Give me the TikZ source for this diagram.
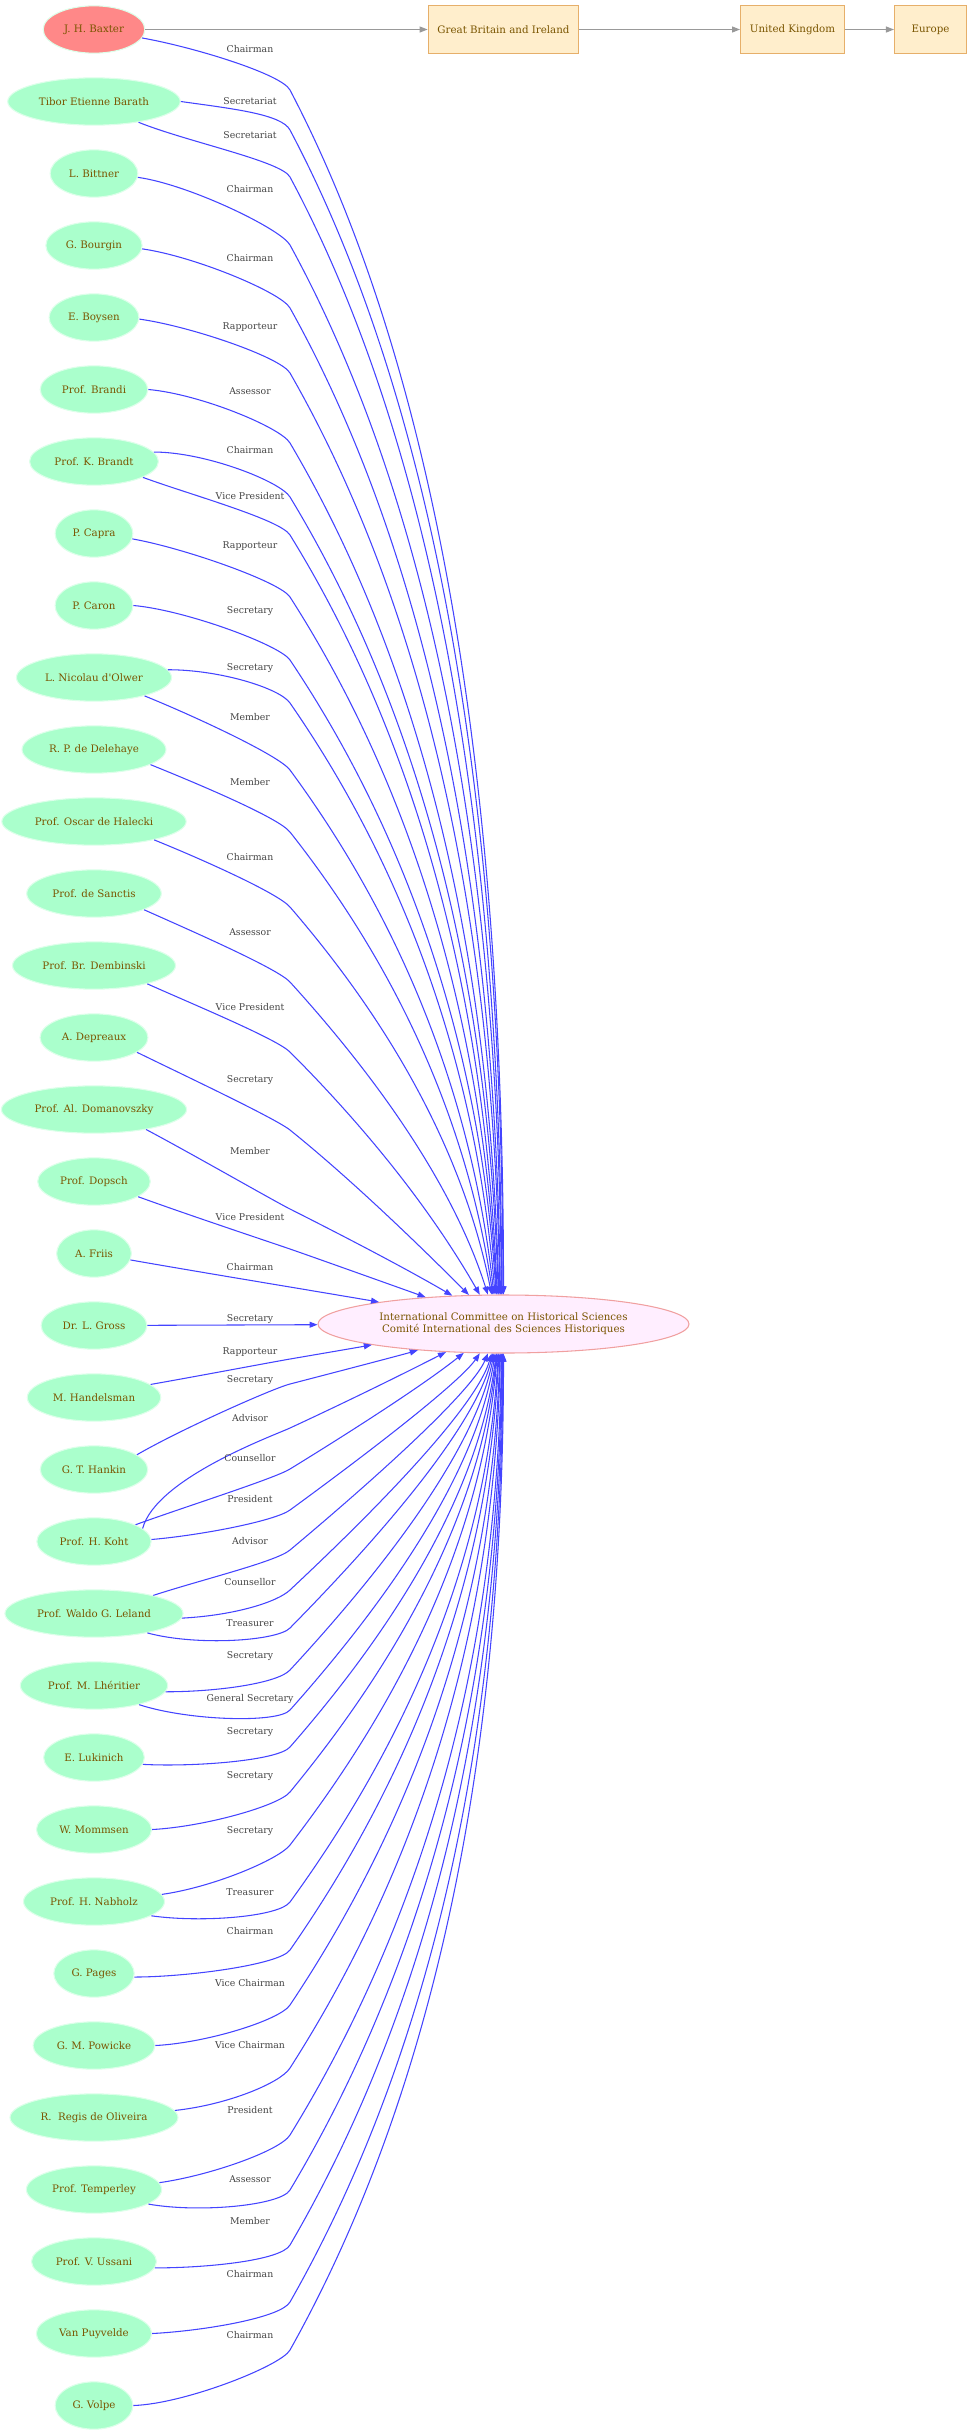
\documentclass[tikz,border=0pt]{standalone}
\usepackage{fontspec}
\setmainfont{DejaVu Serif}
\usepackage{xfp}
\usetikzlibrary{shapes.geometric,arrows.meta,calc}
\definecolor{pfill}{HTML}{AAFFCC}
\definecolor{pline}{HTML}{DDFFEA}
\definecolor{bxfill}{HTML}{FF8888}
\definecolor{txtc}{HTML}{7A5500}
\definecolor{boxfill}{HTML}{FFEECC}
\definecolor{boxline}{HTML}{E6AF6A}
\definecolor{cfill}{HTML}{FFEEFF}
\definecolor{cline}{HTML}{F0A0A0}
\definecolor{edgeblue}{HTML}{4444FF}
\definecolor{edgegray}{HTML}{999999}
\definecolor{labc}{HTML}{444444}
\newcounter{lblc}
% #1 source, #2 start anchor angle, #3 exit angle, #4 knee y (x=290), #5 landing angle, #6 label, #7 label y
\newcommand\relE[7]{%
 \edef\rlR{\fpeval{1/sqrt((cosd(#5)/185.5)^2+(sind(#5)/29)^2)}}%
 \edef\rlTx{\fpeval{503.5+(\rlR)*cosd(#5)}}%
 \edef\rlTy{\fpeval{1324-(\rlR)*sind(#5)}}%
 \edef\rlDy{\fpeval{abs((\rlTy)-(#4))}}%
 \edef\rlF{\fpeval{1-0.22*min(1,(\rlDy)/400)}}%
 \edef\rlS{\fpeval{(\rlF)*atand((\rlTy)-(#4),(\rlTx)-290)}}%
 \edef\rlUx{\fpeval{cosd(\rlS)}}%
 \edef\rlUy{\fpeval{sind(\rlS)}}%
 \edef\rlAy{\fpeval{(#4)<1324 ? 1324+0.0002*(\rlDy)^2 : 1324-0.0002*(\rlDy)^2}}%
 \edef\rlEx{\fpeval{503.5-(\rlTx)}}%
 \edef\rlEy{\fpeval{(\rlAy)-(\rlTy)}}%
 \edef\rlKx{\fpeval{(\rlTx)-290}}%
 \edef\rlKy{\fpeval{(\rlTy)-(#4)}}%
 \edef\rlL{\fpeval{sqrt((\rlKx)^2+(\rlKy)^2)}}%
 \edef\rlX{\fpeval{(\rlUx)*(\rlEy)-(\rlUy)*(\rlEx)}}%
 \edef\rlV{\fpeval{abs(\rlX)<0.0001 ? 0.5*(\rlL) : ((\rlKx)*(\rlEy)-(\rlKy)*(\rlEx))/(\rlX)}}%
 \edef\rlV{\fpeval{max(0.15*(\rlL),min(0.85*(\rlL),\rlV))}}%
 \edef\rlPx{\fpeval{290+(\rlV)*(\rlUx)}}%
 \edef\rlPy{\fpeval{(#4)+(\rlV)*(\rlUy)}}%
 \edef\rlBx{\fpeval{round(290-18*(\rlUx),2)}}%
 \edef\rlBy{\fpeval{round((#4)-18*(\rlUy),2)}}%
 \edef\rlCx{\fpeval{round(290+2/3*((\rlPx)-290),2)}}%
 \edef\rlCy{\fpeval{round((#4)+2/3*((\rlPy)-(#4)),2)}}%
 \edef\rlDx{\fpeval{round((\rlTx)+2/3*((\rlPx)-(\rlTx)),2)}}%
 \edef\rlDyy{\fpeval{round((\rlTy)+2/3*((\rlPy)-(\rlTy)),2)}}%
 \draw[rel] (#1.#2) .. controls ($(#1.#2)+({52*cos(#3)},{-52*sin(#3)})$) and (\rlBx,\rlBy) .. (290,#4) .. controls (\rlCx,\rlCy) and (\rlDx,\rlDyy) .. (ichs.#5);
 \stepcounter{lblc}%
 \node[lbl] (lab\thelblc) at (250,#7) {#6};
}
\begin{document}
\begin{tikzpicture}[x=0.75pt,y=-0.75pt,
  person/.style={ellipse, draw=pline, fill=pfill, text=txtc, font=\fontsize{7.7}{9.2}\selectfont, minimum width=56pt, minimum height=35.5pt, inner xsep=4.5pt, inner ysep=1pt, line width=0.8pt},
  place/.style={rectangle, draw=boxline, fill=boxfill, text=txtc, font=\fontsize{7.7}{9.2}\selectfont, minimum width=54pt, minimum height=36pt, inner xsep=7pt, line width=0.8pt},
  org/.style={ellipse, draw=cline, fill=cfill, text=txtc, font=\fontsize{7.7}{9.2}\selectfont, align=center, minimum width=278.25pt, minimum height=43.5pt, inner sep=0pt, line width=0.8pt},
  rel/.style={draw=edgeblue, line width=0.8pt, -{Triangle[length=6pt,width=4.5pt]}},
  link/.style={draw=edgegray, line width=0.8pt, -{Triangle[length=6pt,width=4.5pt]}},
  lbl/.style={text=labc, font=\fontsize{7}{8}\selectfont, inner sep=0pt}]
\useasboundingbox (0,0) rectangle (972,2435);

\node[place] (gb) at (503.5,29.5) {Great Britain and Ireland};
\node[place] (uk) at (792.5,29.5) {United Kingdom};
\node[place] (eu) at (930.5,29.5) {Europe};
\node[org] (ichs) at (503.5,1324) {International Committee on Historical Sciences\\Comité International des Sciences Historiques};

\node[person,fill=bxfill] (baxter) at (94,29.5) {J. H. Baxter};
\node[person] (barath) at (94,101.5) {Tibor Etienne Barath};
\node[person] (bittner) at (94,173.5) {L. Bittner};
\node[person] (bourgin) at (94,245.5) {G. Bourgin};
\node[person] (boysen) at (94,317.5) {E. Boysen};
\node[person] (brandi) at (94,389.5) {Prof. Brandi};
\node[person] (brandt) at (94,461.5) {Prof. K. Brandt};
\node[person] (capra) at (94,533.5) {P. Capra};
\node[person] (caron) at (94,605.5) {P. Caron};
\node[person] (olwer) at (94,677.5) {L. Nicolau d\textquotesingle Olwer};
\node[person] (delehaye) at (94,749.5) {R. P. de Delehaye};
\node[person] (halecki) at (94,821.5) {Prof. Oscar de Halecki};
\node[person] (sanctis) at (94,893.5) {Prof. de Sanctis};
\node[person] (dembinski) at (94,965.5) {Prof. Br. Dembinski};
\node[person] (depreaux) at (94,1037.5) {A. Depreaux};
\node[person] (domanovszky) at (94,1109.5) {Prof. Al. Domanovszky};
\node[person] (dopsch) at (94,1181.5) {Prof. Dopsch};
\node[person] (friis) at (94,1253.5) {A. Friis};
\node[person] (gross) at (94,1325.5) {Dr. L. Gross};
\node[person] (handelsman) at (94,1397.5) {M. Handelsman};
\node[person] (hankin) at (94,1469.5) {G. T. Hankin};
\node[person] (koht) at (94,1541.5) {Prof. H. Koht};
\node[person] (leland) at (94,1613.5) {Prof. Waldo G. Leland};
\node[person] (lheritier) at (94,1685.5) {Prof. M. Lhéritier};
\node[person] (lukinich) at (94,1757.5) {E. Lukinich};
\node[person] (mommsen) at (94,1829.5) {W. Mommsen};
\node[person] (nabholz) at (94,1901.5) {Prof. H. Nabholz};
\node[person] (pages) at (94,1973.5) {G. Pages};
\node[person] (powicke) at (94,2045.5) {G. M. Powicke};
\node[person] (oliveira) at (94,2117.5) {R.\ \ Regis de Oliveira};
\node[person] (temperley) at (94,2189.5) {Prof. Temperley};
\node[person] (ussani) at (94,2261.5) {Prof. V. Ussani};
\node[person] (vanpuyvelde) at (94,2333.5) {Van Puyvelde};
\node[person] (volpe) at (94,2405.5) {G. Volpe};

\draw[link] (baxter) -- (gb);
\draw[link] (gb) -- (uk);
\draw[link] (uk) -- (eu);

\relE{baxter}{-10}{-10}{90}{90}{Chairman}{49}
\relE{barath}{0}{-8}{130}{91}{Secretariat}{101}
\relE{barath}{-25}{-22}{177}{93}{Secretariat}{135}
\relE{bittner}{-5}{-8}{245}{94}{Chairman}{189}
\relE{bourgin}{-4}{-8}{308}{96}{Chairman}{258}
\relE{boysen}{-2}{-8}{373}{97}{Rapporteur}{327}
\relE{brandi}{0}{-5}{443}{99}{Assessor}{391}
\relE{brandt}{9}{0}{497}{100}{Chairman}{450}
\relE{brandt}{-18}{-20}{535}{102}{Vice President}{496}
\relE{capra}{-8}{-10}{597}{103}{Rapporteur}{546}
\relE{caron}{0}{-5}{660}{104}{Secretary}{611}
\relE{olwer}{6}{0}{703}{106}{Secretary}{668}
\relE{olwer}{-20}{-22}{770}{108}{Member}{717}
\relE{delehaye}{-15}{-22}{832}{110}{Member}{782}
\relE{halecki}{-17}{-22}{907}{112}{Chairman}{857}
\relE{sanctis}{-18}{-24}{982}{118}{Assessor}{932}
\relE{dembinski}{-19}{-24}{1052}{129}{Vice President}{1007}
\relE{depreaux}{-19}{-26}{1130}{140}{Secretary}{1080}
\relE{domanovszky}{-21}{-28}{1209}{151}{Member}{1151}
\relE{dopsch}{-19}{-20}{1249}{161}{Vice President}{1217}
\relE{friis}{-10}{-10}{1287}{170}{Chairman}{1267}

\draw[rel] (gross) -- (ichs);
\node[lbl] (labgross) at (250,1319) {Secretary};

\relE{handelsman}{13}{10}{1359}{-171}{Rapporteur}{1352}
\relE{hankin}{19}{30}{1384}{-163}{Secretary}{1380}
\relE{koht}{15}{75}{1428}{-154}{Advisor}{1418}
\relE{koht}{22}{20}{1469}{-144}{Counsellor}{1458}
\relE{koht}{2}{5}{1510}{-129}{President}{1499}
\relE{leland}{17}{18}{1550}{-118}{Advisor}{1541}
\relE{leland}{-3}{3}{1590}{-112}{Counsellor}{1582}
\relE{leland}{-20}{-15}{1628}{-110}{Treasurer}{1623}
\relE{lheritier}{-5}{0}{1670}{-108}{Secretary}{1656}
\relE{lheritier}{-23}{-18}{1710}{-106}{General Secretary}{1699}
\relE{lukinich}{-8}{-3}{1747}{-104}{Secretary}{1732}
\relE{mommsen}{0}{3}{1792}{-103}{Secretary}{1776}
\relE{nabholz}{6}{8}{1845}{-102}{Secretary}{1831}
\relE{nabholz}{-14}{-8}{1902}{-100}{Treasurer}{1892}
\relE{pages}{-5}{0}{1950}{-99}{Chairman}{1931}
\relE{powicke}{0}{3}{2005}{-97}{Vice Chairman}{1983}
\relE{oliveira}{5}{6}{2068}{-96}{Vice Chairman}{2045}
\relE{temperley}{6}{8}{2135}{-94}{President}{2110}
\relE{temperley}{-15}{-10}{2190}{-93}{Assessor}{2179}
\relE{ussani}{-6}{0}{2245}{-92}{Member}{2221}
\relE{vanpuyvelde}{0}{3}{2302}{-91}{Chairman}{2274}
\relE{volpe}{0}{2}{2350}{-90}{Chairman}{2335}
\end{tikzpicture}
\end{document}
